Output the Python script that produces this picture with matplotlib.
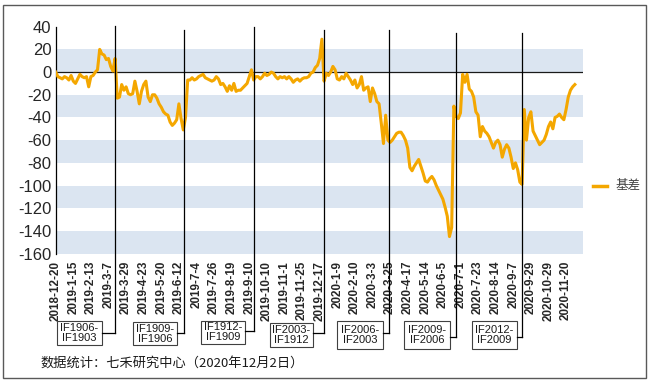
import numpy as np
import matplotlib

matplotlib.use("Agg")
import matplotlib.pyplot as plt
from matplotlib.lines import Line2D
from matplotlib.patches import Rectangle
from matplotlib.transforms import blended_transform_factory

plt.rcParams["font.family"] = ["Liberation Sans", "Noto Sans CJK SC", "DejaVu Sans"]

# 基差，每两个交易日读一个点（第 0 个交易日 = 2018-12-20）
STEP = 2
basis_if1903 = [0, -4, -5, -6, -4, -5, -7, -3, -8, -10, -6, -2, -4, -5,
                -4, -13, -4, -3, 0, 2, 20, 16, 15, 11, 12, 5, 1, 12]
basis_if1906 = [-23, -22, -11, -16, -13, -19, -20, -19, -8, -17, -28, -17,
                -11, -8, -22, -26, -20, -20, -23, -28, -31, -35, -37, -38,
                -44, -47, -45, -42, -28, -41, -51, -40]
basis_if1909 = [-7, -7, -5, -7, -6, -4, -3, -2, -5, -6, -7, -8, -7, -4, -6,
                -11, -10, -13, -17, -12, -16, -10, -17, -16, -16, -14, -12,
                -10, -4, 2, -7]
basis_if1912 = [-4, -4, -6, -4, -1, -3, -2, 0, -1, -4, -6, -4, -5, -4, -6,
                -4, -6, -9, -7, -6, -8, -6, -5, -5, -4, -1, 0, 4, 6, 12, 29]
basis_if2003_2006 = [-8, -1, -3, 0, 5, 2, -6, -7, -4, -6, -1, -4, -7, -11,
                     -7, -14, -11, -4, -16, -14, -13, -26, -14, -19, -26, -28,
                     -45, -63, -38, -60, -62, -60, -57, -54, -53, -53, -56,
                     -60, -67, -84, -87, -83, -80, -77, -83, -89, -96, -97,
                     -94, -92, -95, -100, -104, -108, -112, -119, -127, -145,
                     -137]
basis_if2009_2012 = [-30, -39, -41, -36, -2, -9, -2, -15, -17, -22, -35, -38,
                     -57, -48, -52, -54, -57, -62, -67, -62, -60, -64, -75,
                     -68, -64, -67, -75, -85, -80, -86, -97, -99, -33, -60,
                     -40, -35, -52, -56, -60, -64, -62, -60, -55, -48, -44,
                     -50, -40, -39, -37, -40, -42, -33, -22, -16, -13, -11]
basis = (basis_if1903 + basis_if1906 + basis_if1909 + basis_if1912
         + basis_if2003_2006 + basis_if2009_2012)

# 横轴每 16 个交易日一个标签
TICK_EVERY = 16
tick_labels = [
    "2018-12-20", "2019-1-15", "2019-2-13", "2019-3-7", "2019-3-29",
    "2019-4-23", "2019-5-20", "2019-6-12", "2019-7-4", "2019-7-26",
    "2019-8-19", "2019-9-10", "2019-10-10", "2019-11-1", "2019-11-25",
    "2019-12-17", "2020-1-9", "2020-2-10", "2020-3-3", "2020-3-25",
    "2020-4-17", "2020-5-14", "2020-6-5", "2020-7-1", "2020-7-23",
    "2020-8-14", "2020-9-7", "2020-9-29", "2020-10-29", "2020-11-20",
]

# 换月位置（交易日序号）和主力合约
roll_idx = [54, 117, 180, 244, 303, 364, 424]
roll_labels = ["IF1906-\nIF1903", "IF1909-\nIF1906", "IF1912-\nIF1909",
               "IF2003-\nIF1912", "IF2006-\nIF2003", "IF2009-\nIF2006",
               "IF2012-\nIF2009"]

ORANGE = "#f4a700"
BAND = "#dbe5f1"
W, H = 655, 381


def fx(px):
    return px / W


def fy(py):
    return 1 - py / H


fig = plt.figure(figsize=(W / 100, H / 100), dpi=100)
ax = fig.add_axes([fx(55.7), fy(253.6), (583 - 55.7) / W, (253.6 - 26.7) / H])

x = np.arange(len(basis)) * STEP
ax.set_xlim(0, 479.4)
ax.set_ylim(-160, 40)

for lo in (0, -40, -80, -120, -160):
    ax.axhspan(lo, lo + 20, color=BAND, lw=0, zorder=0)
ax.axhline(0, color="#1a1a1a", lw=0.9, zorder=1)
ax.plot(x, basis, color=ORANGE, lw=2.2, zorder=3, solid_joinstyle="round")

ax.set_yticks(range(-160, 41, 20))
ax.set_yticklabels([str(v) for v in range(-160, 41, 20)], fontsize=12, color="#262626")
ax.set_xticks(np.arange(len(tick_labels)) * TICK_EVERY)
ax.set_xticklabels(tick_labels, rotation=90, fontsize=8.4, fontweight="bold", color="#262626")
ax.tick_params(axis="y", length=0, pad=3.0)
ax.tick_params(axis="x", length=0, pad=5.3)
for side in ("top", "right", "bottom"):
    ax.spines[side].set_visible(False)
ax.spines["left"].set_color("black")
ax.spines["left"].set_linewidth(0.9)

# 换月竖线 + 合约标注框 (left, top, right, bottom, 折线高度, 竖线顶端)，单位像素
boxes = [
    (57, 321, 102, 345, 333, 25.7),
    (133, 322, 177, 345, 333, 30),
    (201, 321, 245, 344, 331, 27),
    (270, 323, 313, 347, 333, 30),
    (337, 321, 383, 349, 333, 30),
    (404, 321, 450, 349, 337, 33),
    (472, 321, 517, 349, 337, 33),
]
vtrans = blended_transform_factory(ax.transData, fig.transFigure)
to_fig = fig.transFigure.inverted()
for r, label, (l, t, rr, b, turn, top) in zip(roll_idx, roll_labels, boxes):
    ax.plot([r, r], [fy(top), fy(turn)], color="black", lw=0.9,
            transform=vtrans, clip_on=False, zorder=5)
    xr = to_fig.transform(ax.transData.transform((r, 0)))[0]
    fig.add_artist(Line2D([xr, fx(rr)], [fy(turn), fy(turn)], color="black", lw=0.9))
    fig.add_artist(Rectangle((fx(l), fy(b)), (rr - l) / W, (b - t) / H,
                             transform=fig.transFigure, facecolor="white",
                             edgecolor="#404040", lw=0.8))
    fig.text(fx((l + rr) / 2), fy((t + b) / 2), label, ha="center", va="center",
             fontsize=8, linespacing=1.0, color="#1a1a1a")

# 图例
fig.add_artist(Line2D([fx(593), fx(607)], [fy(186), fy(186)], color=ORANGE, lw=2.5))
fig.text(fx(616), fy(186), "基差", ha="left", va="center", fontsize=9,
         color="#404040", family=["Noto Sans CJK SC", "DejaVu Sans"])

fig.text(fx(40), fy(363), "数据统计：七禾研究中心（2020年12月2日）", ha="left",
         va="center", fontsize=9.5, color="#1a1a1a",
         family=["Noto Sans CJK SC", "DejaVu Sans"])

fig.add_artist(Rectangle((fx(2.5), fy(377.5)), (646 - 2.5) / W, (377.5 - 4.5) / H,
                         transform=fig.transFigure, fill=False,
                         edgecolor="#595959", lw=1))

fig.savefig("out.png", dpi=100)
plt.close(fig)
